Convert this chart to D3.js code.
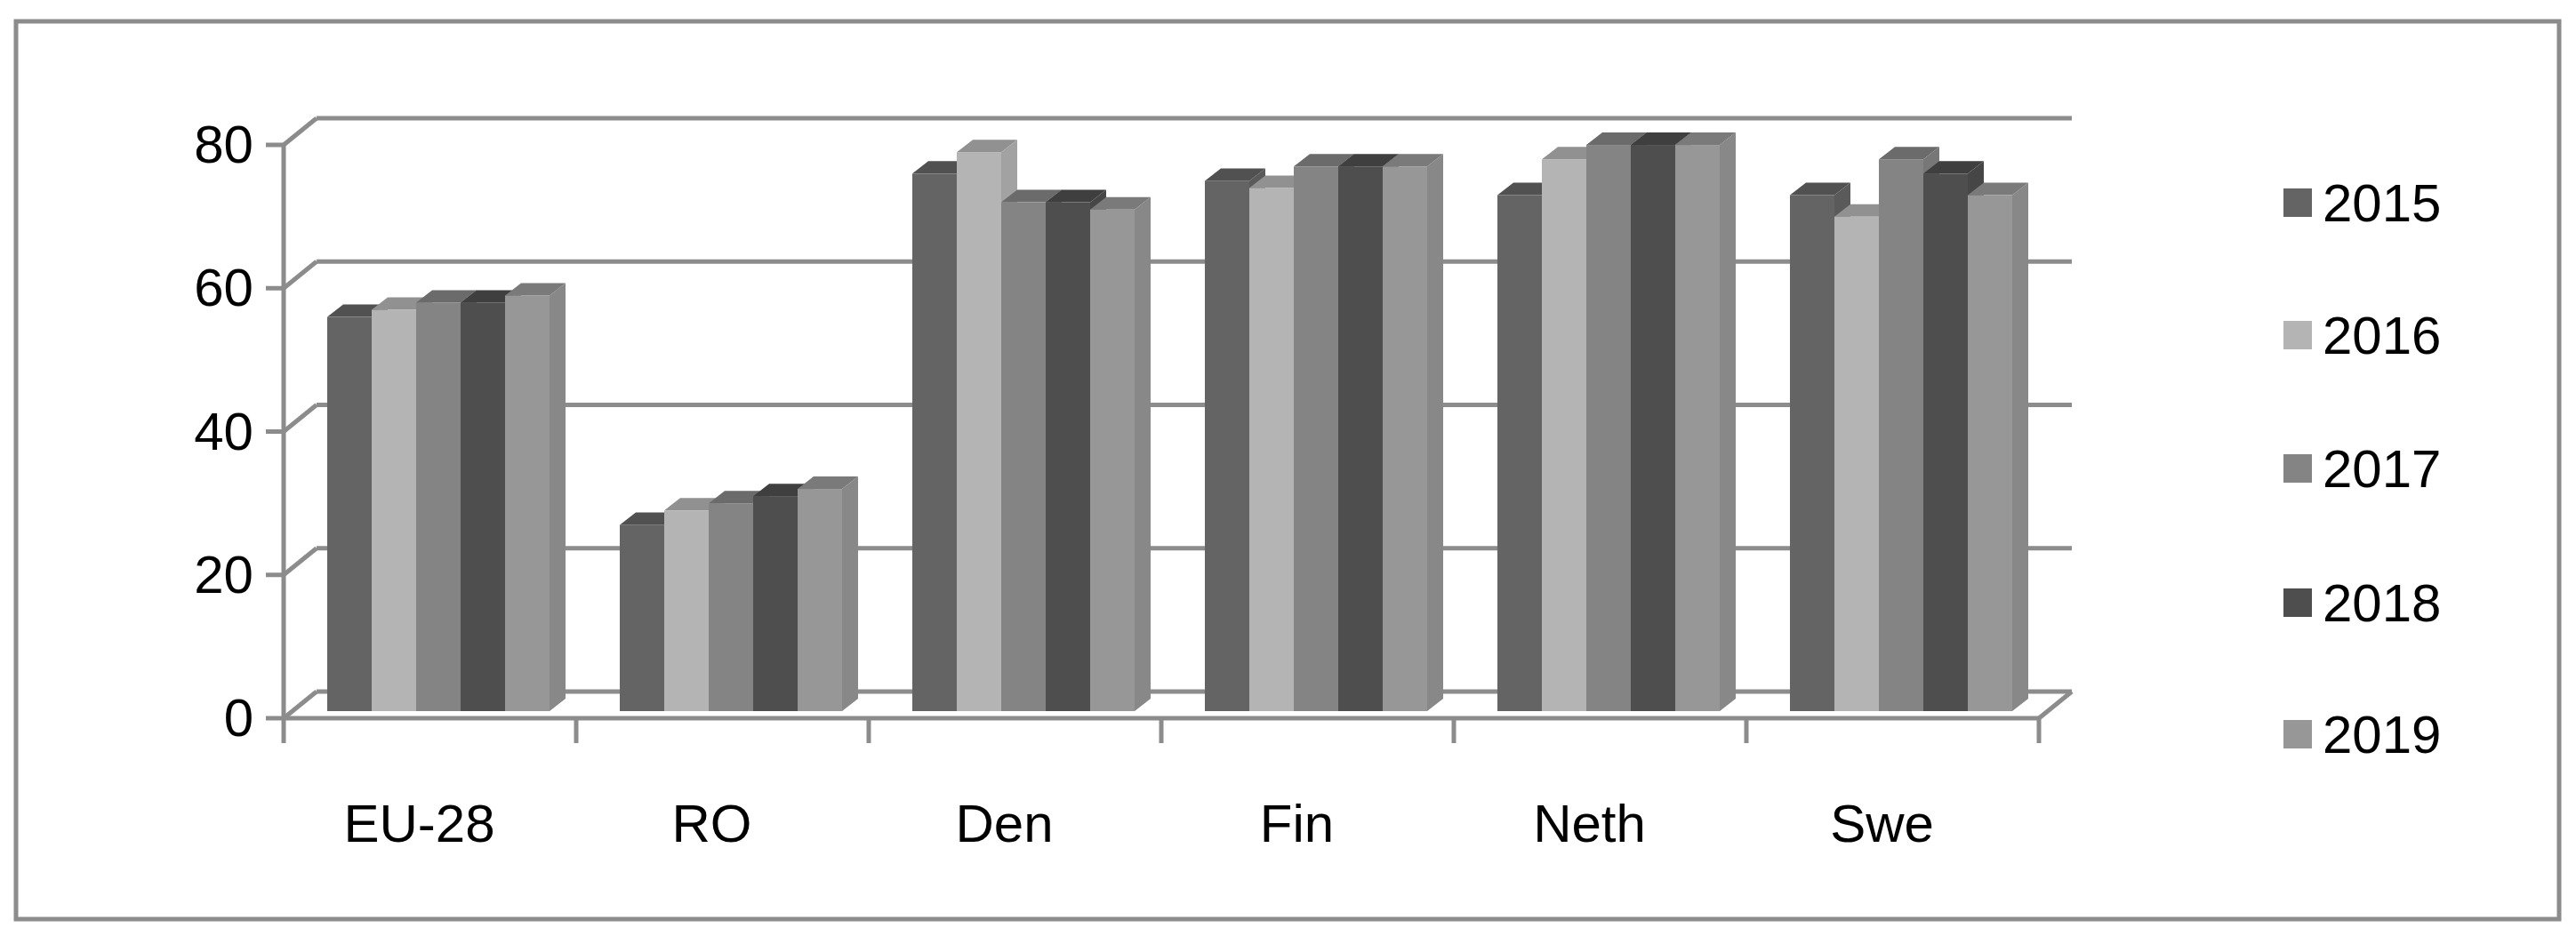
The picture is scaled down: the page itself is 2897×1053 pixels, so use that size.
<!DOCTYPE html>
<html><head><meta charset="utf-8">
<script src="https://cdn.jsdelivr.net/npm/d3@7"></script>
<style>body{margin:0;background:#fff}</style>
</head><body><svg id="c" width="2897" height="1053"></svg>
<script>
var categories = ['EU-28', 'RO', 'Den', 'Fin', 'Neth', 'Swe'];
var years = ['2015', '2016', '2017', '2018', '2019'];
var values = [
    [55, 56, 57, 57, 58],
    [26, 28, 29, 30, 31],
    [75, 78, 71, 71, 70],
    [74, 73, 76, 76, 76],
    [72, 77, 79, 79, 79],
    [72, 69, 77, 75, 72]
];
var yTicks = [0, 20, 40, 60, 80];
var colors = ['#646464', '#b4b4b4', '#848484', '#4e4e4e', '#979797'];

var svg = d3.select('#c');
var font = '"Liberation Sans Narrow", "Liberation Sans", sans-serif';
var grid = '#8c8c8c';

/* border */
svg.append('rect').attr('x', 18).attr('y', 24).attr('width', 2860).attr('height', 1010)
    .attr('fill', 'none').attr('stroke', grid).attr('stroke-width', 5);

var x0 = 319, x1 = 2293, dx = 37, dy = -30;
var y = d3.scaleLinear().domain([0, 80]).range([808, 163]);
var xBand = d3.scaleBand().domain(categories).range([x0, x1]);

var g = svg.append('g');
// walls and gridlines
yTicks.forEach(function(v) {
    g.append('line').attr('x1', x0 + dx).attr('x2', x1 + dx)
        .attr('y1', y(v) + dy).attr('y2', y(v) + dy);
    g.append('line').attr('x1', x0).attr('x2', x0 + dx)
        .attr('y1', y(v)).attr('y2', y(v) + dy);
    g.append('line').attr('x1', x0 - 20).attr('x2', x0)
        .attr('y1', y(v)).attr('y2', y(v));
});
g.append('line').attr('x1', x0).attr('x2', x0).attr('y1', y(80)).attr('y2', y(0));
g.append('line').attr('x1', x0).attr('x2', x1).attr('y1', y(0)).attr('y2', y(0));
g.append('line').attr('x1', x1).attr('x2', x1 + dx).attr('y1', y(0)).attr('y2', y(0) + dy);
categories.concat(['end']).forEach(function(c, i) {
    var xx = i < categories.length ? xBand(c) : x1;
    g.append('line').attr('x1', xx).attr('x2', xx).attr('y1', y(0)).attr('y2', y(0) + 28);
});
g.selectAll('line').attr('stroke', grid).attr('stroke-width', 5);

// bars
var bw = 50, bdx = 18, bdy = -14, base = y(0) - 8;
var bars = svg.append('g');
values.forEach(function(row, ci) {
    var start = xBand(categories[ci]) + 49;
    row.forEach(function(v, si) {
        var bx = start + si * bw, top = base - (y(0) - y(v));
        var col = d3.color(colors[si]);
        bars.append('path')
            .attr('d', 'M' + (bx + bw) + ',' + base + 'L' + (bx + bw + bdx) + ',' + (base + bdy) +
                'L' + (bx + bw + bdx) + ',' + (top + bdy) + 'L' + (bx + bw) + ',' + top + 'Z')
            .attr('fill', col.darker(0.3));
        bars.append('path')
            .attr('d', 'M' + bx + ',' + top + 'L' + (bx + bdx) + ',' + (top + bdy) +
                'L' + (bx + bw + bdx) + ',' + (top + bdy) + 'L' + (bx + bw) + ',' + top + 'Z')
            .attr('fill', col.darker(0.6));
        bars.append('rect').attr('x', bx).attr('y', top).attr('width', bw)
            .attr('height', base - top).attr('fill', colors[si]);
    });
});

// axis labels
svg.selectAll('.yl').data(yTicks).enter().append('text')
    .attr('x', 285).attr('y', function(d) { return y(d) + 20; })
    .attr('text-anchor', 'end').attr('font-family', font).attr('font-size', 60)
    .text(function(d) { return d; });
svg.selectAll('.xl').data(categories).enter().append('text')
    .attr('x', function(d) { return xBand(d) + xBand.bandwidth() / 2 - 12; })
    .attr('y', 947).attr('text-anchor', 'middle').attr('font-family', font).attr('font-size', 60)
    .text(function(d) { return d; });

// legend
var ly = [228, 377, 527, 678, 826];
years.forEach(function(yr, i) {
    svg.append('rect').attr('x', 2568).attr('y', ly[i] - 16).attr('width', 32).attr('height', 32)
        .attr('fill', colors[i]);
    svg.append('text').attr('x', 2612).attr('y', ly[i] + 21).attr('font-family', font)
        .attr('font-size', 60).text(yr);
});
</script></body></html>
